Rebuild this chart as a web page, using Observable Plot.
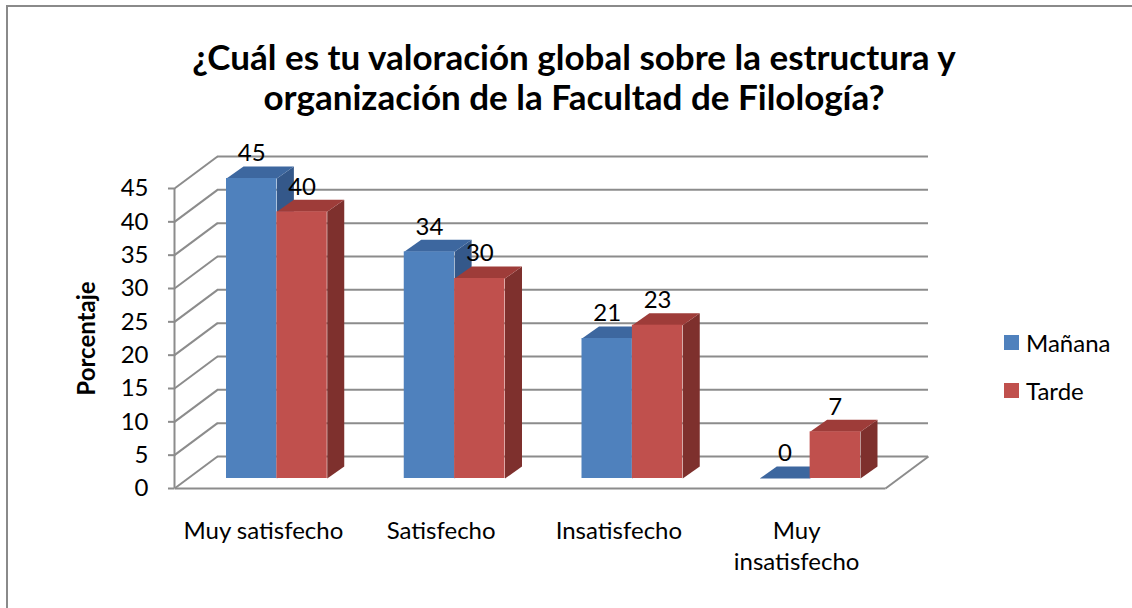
<!DOCTYPE html>
<html>
<head>
<meta charset="utf-8">
<script src="https://cdn.jsdelivr.net/npm/d3@7"></script>
<script src="https://cdn.jsdelivr.net/npm/@observablehq/plot@0.6"></script>
<style>
  html, body { margin: 0; padding: 0; background: #fff; }
  #wrap { position: relative; width: 1132px; height: 608px; overflow: hidden; background: #fff; font-family: Lato, "Open Sans", sans-serif; }
  #border { position: absolute; left: 6px; top: 5px; width: 1200px; height: 700px; border-left: 2px solid #8a8a8a; border-top: 2px solid #8a8a8a; }
  #title { position: absolute; left: 0; top: 36px; width: 1148px; text-align: center; font-weight: bold; font-size: 35px; line-height: 40px; color: #000; white-space: nowrap; }
  #chart { position: absolute; left: 0; top: 0; }
  .leg { position: absolute; left: 1004px; display: flex; align-items: center; font-size: 24px; color: #000; }
  .leg span.sw { width: 15px; height: 15px; margin-right: 7px; display: inline-block; }
</style>
</head>
<body>
<div id="wrap">
  <div id="border"></div>
  <div id="title"></div>
  <div id="chart"></div>
  <div id="legend"></div>
</div>
<script>
// ---- data ----
const titleLines = ["¿Cuál es tu valoración global sobre la estructura y", "organización de la Facultad de Filología?"];
const yLabel = "Porcentaje";
const categories = ["Muy satisfecho", "Satisfecho", "Insatisfecho", "Muy\ninsatisfecho"];
const seriesNames = ["Mañana", "Tarde"];
const manana = [45, 34, 21, 0];
const tarde = [40, 30, 23, 7];
const yTicks = [0, 5, 10, 15, 20, 25, 30, 35, 40, 45];

// ---- styles ----
const colors = {
  "Mañana": {front: "#4F81BD", top: "#3D679F", side: "#34588A"},
  "Tarde":  {front: "#C0504D", top: "#9E3C39", side: "#7E302D"}
};
const gridColor = "#8c8c8c";
const fs = 24;

// ---- layout (pixels) ----
const W = 1132, H = 608;
const mL = 174, mR = 247, mT = 188, mB = 120;
const nCat = categories.length;
const yMax = 45;
const kx = (W - mL - mR) / nCat;     // px per category unit
const ky = (H - mT - mB) / yMax;     // px per value unit
// 3D depth of the floor / walls
const DX = 43 / kx, DY = 32 / ky;
// bar front face sits partway into the depth, bars have their own depth
const OX = 13.5 / kx, OY = 10 / ky;
const BX = 17 / kx, BY = 12 / ky;
const barW = 0.2834; // fraction of category band per bar

document.getElementById("title").innerHTML = titleLines.join("<br>");

// ---- build tables ----
const rows = [];
seriesNames.forEach((s, si) => {
  const vals = si === 0 ? manana : tarde;
  categories.forEach((c, i) => {
    const x1 = i + 0.5 - barW + si * barW + OX;
    const x2 = x1 + barW;
    rows.push({series: s, cat: c, i, v: vals[i], x1, x2, y1: OY, y2: vals[i] + OY});
  });
});
function faces(series, kind) {
  const pts = [];
  rows.filter(r => r.series === series).forEach((r, k) => {
    const id = series + kind + k;
    let poly;
    if (kind === "top") {
      poly = [[r.x1, r.y2], [r.x2, r.y2], [r.x2 + BX, r.y2 + BY], [r.x1 + BX, r.y2 + BY]];
    } else {
      poly = [[r.x2, r.y1], [r.x2, r.y2], [r.x2 + BX, r.y2 + BY], [r.x2 + BX, r.y1 + BY]];
    }
    poly.forEach(([x, y]) => pts.push({id, x, y}));
  });
  return pts;
}

const barMarks = [];
seriesNames.forEach(s => {
  barMarks.push(Plot.line(faces(s, "side"), {x: "x", y: "y", z: "id", fill: colors[s].side, stroke: "none"}));
  barMarks.push(Plot.line(faces(s, "top"), {x: "x", y: "y", z: "id", fill: colors[s].top, stroke: "none"}));
  barMarks.push(Plot.rect(rows.filter(r => r.series === s), {x1: "x1", x2: "x2", y1: "y1", y2: "y2", fill: colors[s].front}));
});

const chart = Plot.plot({
  width: W, height: H,
  marginLeft: mL, marginRight: mR, marginTop: mT, marginBottom: mB,
  x: {type: "linear", domain: [0, nCat], axis: null},
  y: {domain: [0, yMax], axis: null},
  style: {fontFamily: "Lato, 'Open Sans', sans-serif", fontSize: fs + "px", color: "#000", background: "transparent", overflow: "visible"},
  marks: [
    // back wall gridlines
    Plot.ruleY(yTicks, {y: d => d + DY, x1: DX, x2: nCat + DX, stroke: gridColor, strokeWidth: 2}),
    // side wall diagonals
    Plot.link(yTicks, {x1: 0, y1: d => d, x2: DX, y2: d => d + DY, stroke: gridColor, strokeWidth: 2}),
    // floor front and right edges
    Plot.link([0], {x1: 0, y1: 0, x2: nCat, y2: 0, stroke: gridColor, strokeWidth: 2}),
    Plot.link([0], {x1: nCat, y1: 0, x2: nCat + DX, y2: DY, stroke: gridColor, strokeWidth: 2}),
    // value axis
    Plot.ruleX([0], {x: 0, y1: 0, y2: yMax, stroke: gridColor, strokeWidth: 2}),
    Plot.axisY({ticks: yTicks, tickSize: 6, tickPadding: 20, fontSize: fs, stroke: gridColor, strokeWidth: 2, fill: "#000", label: null, tickFormat: d => String(d)}),
    Plot.text([yLabel], {frameAnchor: "left", textAnchor: "middle", dx: -87, rotate: -90, fontWeight: "bold", fontSize: 24, fill: "#000"}),
    ...barMarks,
    // value labels
    Plot.text(rows, {x: r => (r.x1 + r.x2) / 2, y: "y2", text: r => String(r.v), dy: -25, fontSize: fs, fill: "#000"}),
    // category labels
    Plot.text(categories, {x: (d, i) => i + 0.5, y: 0, text: d => d, dy: 29, lineAnchor: "top", lineHeight: 1.29, fontSize: fs, fill: "#000"})
  ]
});
document.getElementById("chart").appendChild(chart);

// legend
const leg = document.getElementById("legend");
seriesNames.forEach((s, i) => {
  const d = document.createElement("div");
  d.className = "leg";
  d.style.top = (326 + i * 48) + "px";
  d.style.height = "32px";
  d.innerHTML = `<span class="sw" style="background:${colors[s].front}"></span><span>${s}</span>`;
  leg.appendChild(d);
});
</script>
</body>
</html>
